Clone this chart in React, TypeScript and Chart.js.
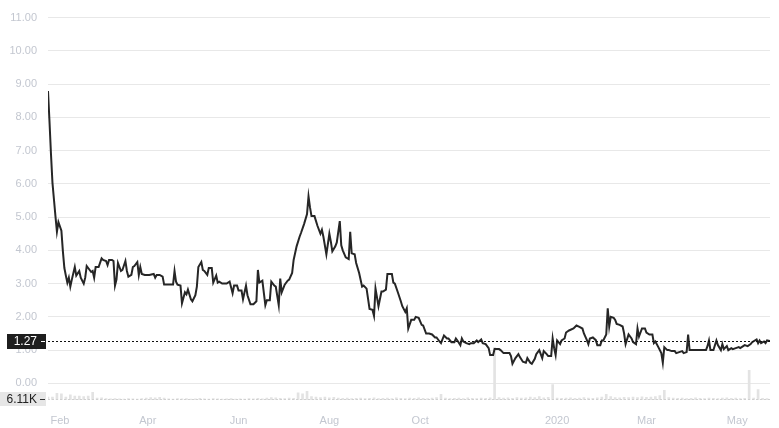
import React, { useEffect, useRef } from "react";
import Chart from "chart.js/auto";

// day 0 = 24 Jan 2019
const startDate = "2019-01-24";

const priceDays = [
  0, 1, 2, 3, 4, 5, 6, 7, 9, 10,
  11, 12, 13, 14, 15, 16, 18, 19, 21, 22,
  24, 25, 26, 28, 29, 30, 31, 32, 34, 36,
  37, 39, 40, 41, 43, 44, 45, 46, 47, 49,
  50, 52, 53, 54, 56, 57, 58, 60, 61, 62,
  63, 65, 66, 68, 71, 72, 73, 75, 77, 78,
  80, 82, 84, 85, 86, 87, 89, 90, 92, 93,
  94, 96, 97, 99, 100, 101, 103, 104, 105, 107,
  108, 109, 110, 111, 113, 114, 115, 117, 120, 122,
  124, 125, 127, 128, 130, 131, 133, 134, 136, 138,
  140, 141, 142, 144, 146, 147, 149, 150, 152, 153,
  155, 156, 157, 159, 161, 162, 164, 165, 167, 169,
  170, 172, 174, 175, 176, 177, 179, 181, 183, 184,
  185, 187, 189, 190, 191, 193, 194, 196, 197, 198,
  200, 202, 203, 204, 206, 207, 209, 211, 212, 214,
  216, 218, 219, 220, 222, 224, 225, 227, 228, 231,
  232, 233, 235, 237, 238, 240, 241, 242, 244, 246,
  247, 249, 251, 252, 254, 256, 258, 260, 261, 263,
  264, 266, 268, 269, 271, 273, 274, 275, 277, 278,
  279, 281, 283, 284, 286, 288, 289, 291, 292, 294,
  296, 297, 299, 300, 303, 304, 306, 308, 310, 311,
  312, 314, 316, 317, 319, 321, 322, 324, 325, 327,
  328, 330, 332, 333, 335, 336, 338, 339, 340, 341,
  342, 344, 345, 347, 348, 350, 353, 355, 357, 359,
  360, 362, 363, 364, 366, 368, 369, 371, 372, 373,
  375, 376, 377, 378, 380, 381, 382, 384, 386, 387,
  388, 390, 392, 393, 395, 396, 397, 399, 401, 402,
  404, 406, 407, 408, 410, 412, 413, 414, 416, 417,
  419, 421, 422, 424, 426, 427, 429, 430, 431, 433,
  435, 438, 440, 442, 443, 444, 445, 447, 449, 450,
  452, 453, 454, 456, 457, 459, 460, 462, 464, 465,
  467, 468, 470, 472, 473, 476, 477, 478, 479, 481,
  482, 483, 485,
];

const prices = [
  8.79, 7.88, 6.9, 6.03, 5.53, 5.03, 4.56, 4.85, 4.59, 3.97,
  3.47, 3.24, 3.03, 3.18, 2.91, 3.12, 3.5, 3.24, 3.38, 3.18,
  3.0, 3.18, 3.53, 3.41, 3.35, 3.38, 3.18, 3.5, 3.5, 3.76,
  3.71, 3.68, 3.56, 3.71, 3.71, 3.68, 2.94, 3.12, 3.62, 3.38,
  3.41, 3.68, 3.38, 3.21, 3.26, 3.5, 3.53, 3.65, 3.26, 3.5,
  3.29, 3.26, 3.26, 3.26, 3.29, 3.18, 3.26, 3.26, 3.21, 2.97,
  2.97, 2.97, 2.97, 3.38, 3.06, 2.97, 2.94, 2.41, 2.74, 2.68,
  2.82, 2.53, 2.47, 2.65, 2.91, 3.5, 3.65, 3.41, 3.38, 3.26,
  3.47, 3.47, 3.47, 3.03, 3.24, 3.03, 3.06, 3.0, 3.0, 3.06,
  2.71, 2.94, 2.94, 2.79, 2.79, 2.53, 2.94, 2.65, 2.38, 2.38,
  2.47, 3.41, 3.03, 3.09, 2.35, 2.5, 2.5, 3.06, 2.94, 2.91,
  2.35, 3.15, 2.74, 2.97, 3.09, 3.12, 3.32, 3.71, 4.12, 4.41,
  4.53, 4.79, 5.09, 5.62, 5.29, 5.03, 5.03, 4.74, 4.5, 4.62,
  4.41, 3.88, 4.5, 4.26, 3.97, 4.12, 4.24, 4.88, 4.15, 4.0,
  3.79, 3.74, 4.56, 3.91, 3.88, 3.62, 3.32, 2.91, 2.94, 2.85,
  2.24, 2.21, 2.03, 2.85, 2.32, 2.76, 2.76, 2.82, 3.29, 3.29,
  3.03, 3.0, 2.74, 2.47, 2.32, 2.15, 2.26, 1.65, 1.91, 1.91,
  2.0, 1.97, 1.76, 1.74, 1.5, 1.5, 1.47, 1.38, 1.38, 1.26,
  1.21, 1.44, 1.35, 1.35, 1.24, 1.24, 1.35, 1.29, 1.15, 1.35,
  1.26, 1.21, 1.18, 1.21, 1.21, 1.29, 1.24, 1.32, 1.21, 1.18,
  1.06, 0.85, 0.85, 1.03, 1.03, 1.0, 0.91, 0.91, 0.91, 0.82,
  0.59, 0.76, 0.88, 0.79, 0.65, 0.62, 0.76, 0.62, 0.59, 0.74,
  0.88, 1.0, 0.76, 0.97, 0.88, 0.82, 0.82, 1.35, 1.06, 0.85,
  1.29, 1.18, 1.29, 1.35, 1.53, 1.59, 1.65, 1.74, 1.7, 1.65,
  1.5, 1.3, 1.18, 1.35, 1.38, 1.3, 1.15, 1.15, 1.29, 1.29,
  1.47, 2.26, 1.71, 2.0, 1.97, 1.91, 1.79, 1.76, 1.71, 1.5,
  1.18, 1.47, 1.35, 1.24, 1.18, 1.65, 1.41, 1.65, 1.65, 1.53,
  1.47, 1.47, 1.21, 1.26, 1.09, 0.91, 0.62, 1.09, 1.0, 1.0,
  0.97, 0.97, 0.91, 0.94, 0.97, 0.91, 0.94, 1.47, 1.0, 1.0,
  1.0, 1.0, 1.0, 1.0, 1.12, 1.29, 1.0, 1.0, 1.29, 1.15,
  1.0, 1.18, 1.03, 1.12, 1.0, 1.06, 1.03, 1.06, 1.09, 1.06,
  1.12, 1.15, 1.12, 1.18, 1.24, 1.32, 1.21, 1.29, 1.21, 1.26,
  1.21, 1.29, 1.27,
];

// volume in thousands, one bar every 3 days from day 0
const volumeStep = 3;
const volumes = [
  12, 12, 28, 26, 12, 22, 16, 16, 14, 16,
  32, 8, 9, 6, 5, 6, 5, 4, 6, 5,
  4, 6, 8, 10, 9, 11, 8, 5, 4, 6,
  5, 6, 4, 5, 7, 5, 4, 6, 5, 4,
  5, 6, 4, 5, 4, 6, 5, 7, 5, 8,
  10, 9, 7, 6, 8, 7, 30, 26, 36, 14,
  12, 10, 12, 9, 11, 8, 7, 8, 6, 7,
  8, 6, 7, 9, 6, 7, 8, 6, 9, 7,
  6, 8, 7, 9, 7, 6, 8, 10, 24, 8,
  6, 7, 8, 6, 9, 7, 6, 8, 7, 9,
  220, 10, 8, 9, 7, 10, 8, 9, 12, 10,
  14, 9, 11, 64, 8, 7, 8, 9, 7, 8,
  10, 8, 7, 9, 12, 24, 14, 10, 9, 11,
  10, 12, 10, 13, 11, 12, 14, 18, 40, 10,
  8, 7, 8, 6, 7, 9, 7, 6, 8, 7,
  6, 8, 9, 7, 8, 6, 7, 124, 8, 44,
  7, 6.11,
];

const priceTicks = [0, 1, 2, 3, 4, 5, 6, 7, 8, 9, 10, 11];
const xTickDates = [
  "2019-02-01", "2019-04-01", "2019-06-01", "2019-08-01",
  "2019-10-01", "2020-01-01", "2020-03-01", "2020-05-01",
];
const xTickLabels = ["Feb", "Apr", "Jun", "Aug", "Oct", "2020", "Mar", "May"];

const dayOf = (iso: string) =>
  Math.round((Date.parse(iso) - Date.parse(startDate)) / 86400000);

const FONT = '"Liberation Sans", Arial, sans-serif';

const badgePlugin = {
  id: "lastValueBadges",
  afterDraw(chart: any) {
    const { ctx, chartArea } = chart;
    const y = chart.scales.y;
    const y1 = chart.scales.y1;
    const lastPrice = prices[prices.length - 1];
    const lastVol = volumes[volumes.length - 1];
    const py = Math.round(y.getPixelForValue(lastPrice)) + 0.5;
    const vy = Math.round(y1.getPixelForValue(lastVol)) + 0.5;

    ctx.save();
    ctx.lineWidth = 1;

    // volume marker
    ctx.setLineDash([2, 2]);
    ctx.strokeStyle = "#d0d0d0";
    ctx.beginPath();
    ctx.moveTo(chartArea.left, vy);
    ctx.lineTo(chartArea.right, vy);
    ctx.stroke();
    ctx.setLineDash([]);
    ctx.fillStyle = "#e6e6e6";
    ctx.fillRect(0, vy - 7.5, 46, 14);
    ctx.strokeStyle = "#333";
    ctx.beginPath();
    ctx.moveTo(40, vy);
    ctx.lineTo(45, vy);
    ctx.stroke();
    ctx.fillStyle = "#222";
    ctx.font = `12px ${FONT}`;
    ctx.textAlign = "right";
    ctx.textBaseline = "middle";
    ctx.fillText(lastVol.toFixed(2) + "K", 37, vy);

    // price marker
    ctx.setLineDash([2, 2]);
    ctx.strokeStyle = "#111";
    ctx.beginPath();
    ctx.moveTo(chartArea.left, py);
    ctx.lineTo(chartArea.right, py);
    ctx.stroke();
    ctx.setLineDash([]);
    ctx.fillStyle = "#1e1e1e";
    ctx.fillRect(7, py - 7.5, 39, 15);
    ctx.strokeStyle = "#fff";
    ctx.beginPath();
    ctx.moveTo(41, py);
    ctx.lineTo(45, py);
    ctx.stroke();
    ctx.fillStyle = "#fff";
    ctx.fillText(lastPrice.toFixed(2), 37, py);
    ctx.restore();
  },
};

const App: React.FC = () => {
  const canvasRef = useRef<HTMLCanvasElement>(null);
  const chartRef = useRef<Chart>();

  useEffect(() => {
    document.body.style.margin = "0";
    if (!canvasRef.current) return;
    const ctx = canvasRef.current.getContext("2d");
    if (!ctx) return;

    const tickDays = xTickDates.map(dayOf);

    chartRef.current = new Chart(ctx, {
      type: "bar",
      data: {
        datasets: [
          {
            type: "line",
            label: "Price",
            data: priceDays.map((d, i) => ({ x: d, y: prices[i] })),
            borderColor: "#262626",
            borderWidth: 2,
            pointRadius: 0,
            tension: 0,
            yAxisID: "y",
            order: 0,
          } as any,
          {
            type: "bar",
            label: "Volume",
            data: volumes.map((v, i) => ({ x: i * volumeStep, y: v })),
            backgroundColor: "#e3e3e3",
            barThickness: 2,
            yAxisID: "y1",
            order: 1,
          },
        ],
      },
      options: {
        animation: false,
        responsive: true,
        maintainAspectRatio: false,
        layout: { padding: { top: 8, right: 9, left: 0, bottom: 0 } },
        plugins: {
          legend: { display: false },
          tooltip: { enabled: false },
        },
        scales: {
          x: {
            type: "linear",
            offset: false,
            min: 0,
            max: 485,
            grid: { display: false, offset: false },
            border: { display: false },
            afterBuildTicks: (scale: any) => {
              scale.ticks = tickDays.map((v) => ({ value: v }));
            },
            afterFit: (scale: any) => {
              scale.height = 28;
            },
            ticks: {
              autoSkip: false,
              maxRotation: 0,
              padding: 6,
              color: "#c3c7d0",
              font: { family: FONT, size: 11 },
              callback: (_v: any, i: number) => xTickLabels[i],
            },
          },
          y: {
            position: "left",
            min: -0.5,
            max: 11,
            grid: { color: "#e8e8e8", drawTicks: false },
            border: { display: false },
            afterBuildTicks: (scale: any) => {
              scale.ticks = priceTicks.map((v) => ({ value: v }));
            },
            afterFit: (scale: any) => {
              scale.width = 48;
            },
            ticks: {
              padding: 11,
              color: "#c3c7d0",
              font: { family: FONT, size: 11 },
              callback: (v: any) => Number(v).toFixed(2),
            },
          },
          y1: {
            display: false,
            min: 0,
            max: 1600,
          },
        },
      },
      plugins: [badgePlugin],
    });

    return () => {
      if (chartRef.current) {
        chartRef.current.destroy();
      }
    };
  }, []);

  return (
    <div style={{ width: 779, height: 428, position: "relative" }}>
      <canvas ref={canvasRef} />
    </div>
  );
};

export default App;
